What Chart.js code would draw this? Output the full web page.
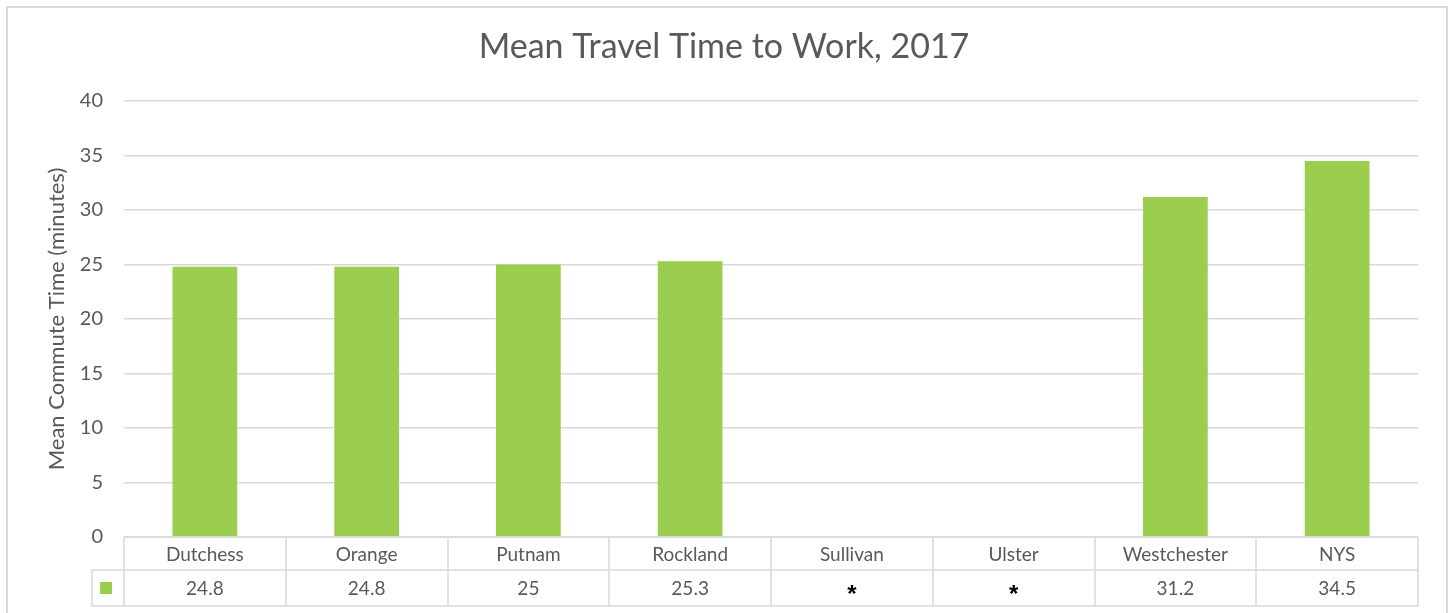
<!DOCTYPE html>
<html>
<head>
<meta charset="utf-8">
<title>Mean Travel Time to Work, 2017</title>
<script src="https://cdn.jsdelivr.net/npm/chart.js@4.4.1/dist/chart.umd.min.js"></script>
<style>
    html, body { margin: 0; padding: 0; background: #fff; }
    canvas { display: block; }
</style>
</head>
<body>
<canvas id="commuteChart" width="1448" height="613"></canvas>
<script>
const counties = ['Dutchess', 'Orange', 'Putnam', 'Rockland', 'Sullivan', 'Ulster', 'Westchester', 'NYS'];
const meanMinutes = [24.8, 24.8, 25, 25.3, null, null, 31.2, 34.5];
const yMin = 0;
const yMax = 40;
const yStep = 5;

const barGreen = '#9bcd4f';
const textGrey = '#595959';
const lineGrey = '#d9d9d9';
const fontFamily = 'Lato, "Open Sans", sans-serif';

// outer frame, like the Excel chart area border
const frame = {
    id: 'frame',
    beforeDraw(chart) {
        const ctx = chart.ctx;
        ctx.save();
        ctx.fillStyle = '#fff';
        ctx.fillRect(0, 0, chart.width, chart.height);
        ctx.strokeStyle = lineGrey;
        ctx.lineWidth = 2;
        ctx.strokeRect(7, 7, chart.width - 8, chart.height + 20);
        ctx.restore();
    }
};

// data table under the plot (category row + value row)
const dataTable = {
    id: 'dataTable',
    afterDraw(chart) {
        const { ctx, chartArea } = chart;
        const x = chart.scales.x;
        const step = x.getPixelForValue(1) - x.getPixelForValue(0);
        const left = chartArea.left, right = chartArea.right;
        const top = chartArea.bottom, mid = top + 33, bot = mid + 36;
        const keyLeft = left - 32;

        ctx.save();
        ctx.strokeStyle = lineGrey;
        ctx.lineWidth = 1.5;
        ctx.beginPath();
        ctx.moveTo(left, top); ctx.lineTo(right, top);
        ctx.moveTo(keyLeft, mid); ctx.lineTo(right, mid);
        ctx.moveTo(keyLeft, bot); ctx.lineTo(right, bot);
        ctx.moveTo(keyLeft, mid); ctx.lineTo(keyLeft, bot);
        for (let i = 0; i <= counties.length; i++) {
            const cx = Math.round(x.getPixelForValue(i) - step / 2);
            ctx.moveTo(cx, top); ctx.lineTo(cx, bot);
        }
        ctx.stroke();

        // legend key
        ctx.fillStyle = barGreen;
        ctx.fillRect(keyLeft + 8, mid + 12, 12, 12);

        ctx.textAlign = 'center';
        ctx.textBaseline = 'middle';
        counties.forEach((name, i) => {
            const cx = x.getPixelForValue(i);
            ctx.font = '19px ' + fontFamily;
            ctx.fillStyle = textGrey;
            ctx.fillText(name, cx, (top + mid) / 2 + 1);
            const v = meanMinutes[i];
            if (v === null) {
                ctx.font = 'bold 24px "Liberation Sans", Arial, sans-serif';
                ctx.fillStyle = '#000';
                ctx.fillText('*', cx, (mid + bot) / 2 + 7);
            } else {
                ctx.fillText(String(v), cx, (mid + bot) / 2 + 1);
            }
        });
        ctx.restore();
    }
};

new Chart(document.getElementById('commuteChart'), {
    type: 'bar',
    data: {
        labels: counties,
        datasets: [{
            label: 'Mean Travel Time',
            data: meanMinutes,
            backgroundColor: barGreen,
            borderWidth: 0,
            categoryPercentage: 1,
            barPercentage: 0.4
        }]
    },
    options: {
        responsive: false,
        animation: false,
        layout: { padding: { top: 0, left: 30, right: 30, bottom: 76 } },
        plugins: {
            legend: { display: false },
            tooltip: { enabled: false },
            title: {
                display: true,
                text: 'Mean Travel Time to Work, 2017',
                color: textGrey,
                font: { family: fontFamily, size: 34, weight: 'normal' },
                padding: { top: 27, bottom: 33.2 }
            }
        },
        scales: {
            x: {
                display: false
            },
            y: {
                min: yMin,
                max: yMax,
                ticks: {
                    stepSize: yStep,
                    color: textGrey,
                    padding: 21,
                    font: { family: fontFamily, size: 20 }
                },
                grid: { color: lineGrey, lineWidth: 1.5, drawTicks: false },
                border: { display: false },
                title: {
                    display: true,
                    text: 'Mean Commute Time (minutes)',
                    color: textGrey,
                    font: { family: fontFamily, size: 22 },
                    padding: { top: 14, bottom: 0 }
                },
                afterFit(scale) { scale.width = 94; }
            }
        }
    },
    plugins: [frame, dataTable]
});
</script>
</body>
</html>
